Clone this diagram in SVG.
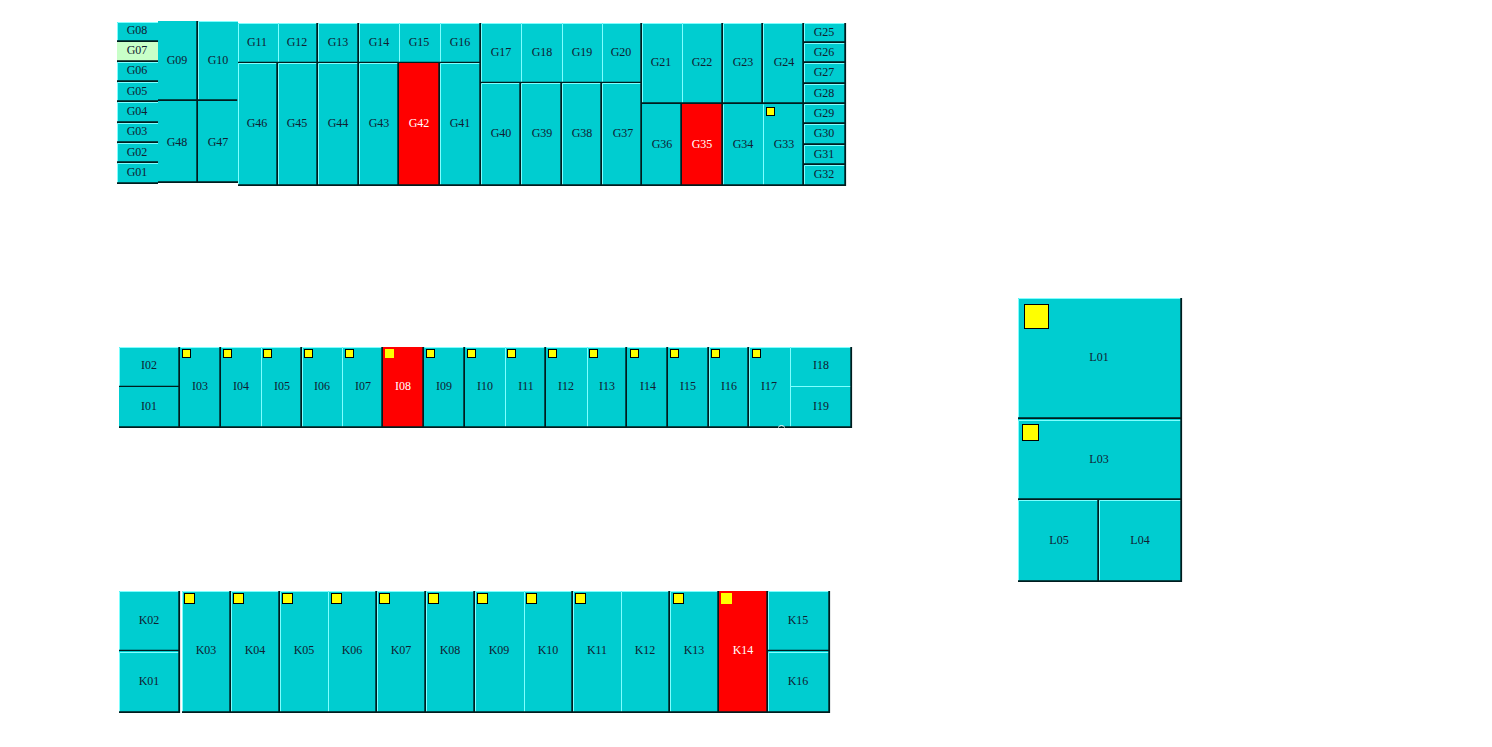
<svg xmlns="http://www.w3.org/2000/svg" width="1492" height="747" viewBox="0 0 1492 747">
<style>
rect.f{fill:#00CDD0}
rect.r{fill:#FF0000}
rect.p{fill:#C8FFC8}
rect.s{fill:#FFFF00;stroke:#000;stroke-width:1}
path.l{fill:none;stroke:#7FFFFF;stroke-width:1}
path.d{fill:none;stroke:#001C1E;stroke-width:1.8}
text{font-family:"Liberation Serif","Times New Roman",serif;font-size:12px;fill:#102030;text-anchor:middle}
text.w{fill:#fff}
</style>
<rect width="1492" height="747" fill="#fff"/>
<g id="G08"><rect class="f" x="117" y="22" width="41" height="20"/><path class="l" d="M117.5 42V22.500H158"/><path class="d" d="M117 41.200H158"/><text x="137" y="34">G08</text></g>
<g id="G07"><rect class="p" x="117" y="42" width="41" height="20"/><path class="d" d="M117 61.200H158"/><text x="137" y="54">G07</text></g>
<g id="G06"><rect class="f" x="117" y="62" width="41" height="20"/><path class="l" d="M117.500 82V62.500H158"/><path class="d" d="M117 81.200H158"/><text x="137" y="74">G06</text></g>
<g id="G05"><rect class="f" x="117" y="82" width="41" height="20"/><path class="l" d="M117.500 102V82.500H158"/><path class="d" d="M117 101.200H158"/><text x="137" y="95">G05</text></g>
<g id="G04"><rect class="f" x="117" y="102" width="41" height="21"/><path class="l" d="M117.500 123V102.500H158"/><path class="d" d="M117 122.200H158"/><text x="137" y="115">G04</text></g>
<g id="G03"><rect class="f" x="117" y="123" width="41" height="20"/><path class="l" d="M117.500 143V123.500H158"/><path class="d" d="M117 142.200H158"/><text x="137" y="135">G03</text></g>
<g id="G02"><rect class="f" x="117" y="143" width="41" height="20"/><path class="l" d="M117.500 163V143.500H158"/><path class="d" d="M117 162.200H158"/><text x="137" y="156">G02</text></g>
<g id="G01"><rect class="f" x="117" y="163" width="41" height="21"/><path class="l" d="M117.500 184V163.500H158"/><path class="d" d="M117 183.200H158"/><text x="137" y="176">G01</text></g>
<g id="G09"><rect class="f" x="158" y="21" width="40" height="80"/><path class="d" d="M197.200 21V100.200H158"/><text x="177" y="64">G09</text></g>
<g id="G10"><rect class="f" x="198" y="21" width="40" height="80"/><path class="l" d="M198.500 100V21.500H238"/><path class="d" d="M237.200 100.200H198"/><text x="218" y="64">G10</text></g>
<g id="G48"><rect class="f" x="158" y="101" width="40" height="82"/><path class="d" d="M197.200 101V182.200H158"/><text x="177" y="146">G48</text></g>
<g id="G47"><rect class="f" x="198" y="101" width="40" height="82"/><path class="d" d="M198 182.200H238"/><text x="218" y="146">G47</text></g>
<g id="G11"><rect class="f" x="238" y="23" width="40" height="40"/><path class="l" d="M238.500 63V23.500H278"/><path class="d" d="M238 62.700H278"/><text x="257" y="46">G11</text></g>
<g id="G12"><rect class="f" x="278" y="23" width="40" height="40"/><path class="l" d="M278.500 63V23.500H318"/><path class="d" d="M278 62.700H318M317.200 23V63"/><text x="297" y="46">G12</text></g>
<g id="G13"><rect class="f" x="318" y="23" width="41" height="40"/><path class="l" d="M318.500 63V23.500H359"/><path class="d" d="M318 62.700H359M358.200 23V63"/><text x="338" y="46">G13</text></g>
<g id="G14"><rect class="f" x="359" y="23" width="40" height="40"/><path class="l" d="M359.500 63V23.500H399"/><path class="d" d="M359 62.700H399"/><text x="379" y="46">G14</text></g>
<g id="G15"><rect class="f" x="399" y="23" width="41" height="40"/><path class="l" d="M399.500 63V23.500H440"/><path class="d" d="M399 62.700H440"/><text x="419" y="46">G15</text></g>
<g id="G16"><rect class="f" x="440" y="23" width="41" height="40"/><path class="l" d="M440.500 63V23.500H481"/><path class="d" d="M440 62.700H481M480.200 23V63"/><text x="460" y="46">G16</text></g>
<g id="G46"><rect class="f" x="238" y="63" width="40" height="123"/><path class="l" d="M238.500 186V63.500H278"/><path class="d" d="M238 185.200H278M277.200 63V186"/><text x="257" y="127">G46</text></g>
<g id="G45"><rect class="f" x="278" y="63" width="40" height="123"/><path class="l" d="M278.500 186V63.500H318"/><path class="d" d="M278 185.200H318M317.200 63V186"/><text x="297" y="127">G45</text></g>
<g id="G44"><rect class="f" x="318" y="63" width="41" height="123"/><path class="l" d="M318.500 186V63.500H359"/><path class="d" d="M318 185.200H359M358.200 63V186"/><text x="338" y="127">G44</text></g>
<g id="G43"><rect class="f" x="359" y="63" width="40" height="123"/><path class="l" d="M359.500 186V63.500H399"/><path class="d" d="M359 185.200H399M398.200 63V186"/><text x="379" y="127">G43</text></g>
<g id="G42"><rect class="r" x="399" y="63" width="41" height="123"/><path class="d" d="M399 185.200H440M439.200 63V186"/><text class="w" x="419" y="127">G42</text></g>
<g id="G41"><rect class="f" x="440" y="63" width="41" height="123"/><path class="l" d="M440.500 186V63.500H481"/><path class="d" d="M440 185.200H481M480.200 63V186"/><text x="460" y="127">G41</text></g>
<g id="G17"><rect class="f" x="481" y="23" width="40" height="60"/><path class="l" d="M481.500 83V23.500H521"/><path class="d" d="M481 82.700H521"/><text x="501" y="56">G17</text></g>
<g id="G18"><rect class="f" x="521" y="23" width="41" height="60"/><path class="l" d="M521.500 83V23.500H562"/><path class="d" d="M521 82.700H562"/><text x="542" y="56">G18</text></g>
<g id="G19"><rect class="f" x="562" y="23" width="40" height="60"/><path class="l" d="M562.500 83V23.500H602"/><path class="d" d="M562 82.700H602"/><text x="582" y="56">G19</text></g>
<g id="G20"><rect class="f" x="602" y="23" width="40" height="60"/><path class="l" d="M602.500 83V23.500H642"/><path class="d" d="M602 82.700H642M641.200 23V83"/><text x="621" y="56">G20</text></g>
<g id="G40"><rect class="f" x="481" y="83" width="40" height="103"/><path class="l" d="M481.500 186V83.500H521"/><path class="d" d="M481 185.200H521M520.200 83V186"/><text x="501" y="137">G40</text></g>
<g id="G39"><rect class="f" x="521" y="83" width="41" height="103"/><path class="l" d="M521.500 186V83.500H562"/><path class="d" d="M521 185.200H562M561.200 83V186"/><text x="542" y="137">G39</text></g>
<g id="G38"><rect class="f" x="562" y="83" width="40" height="103"/><path class="l" d="M562.500 186V83.500H602"/><path class="d" d="M562 185.200H602M601.200 83V186"/><text x="582" y="137">G38</text></g>
<g id="G37"><rect class="f" x="602" y="83" width="40" height="103"/><path class="l" d="M602.500 186V83.500H642"/><path class="d" d="M602 185.200H642M641.200 83V186"/><text x="623" y="137">G37</text></g>
<g id="G21"><rect class="f" x="642" y="23" width="40" height="81"/><path class="l" d="M642.500 104V23.500H682"/><path class="d" d="M642 103.200H682"/><text x="661" y="66">G21</text></g>
<g id="G22"><rect class="f" x="682" y="23" width="41" height="81"/><path class="l" d="M682.500 104V23.500H723"/><path class="d" d="M682 103.200H723M722.200 23V104"/><text x="702" y="66">G22</text></g>
<g id="G23"><rect class="f" x="723" y="23" width="40" height="81"/><path class="l" d="M723.500 104V23.500H763"/><path class="d" d="M723 103.200H763M762.200 23V104"/><text x="743" y="66">G23</text></g>
<g id="G24"><rect class="f" x="763" y="23" width="41" height="81"/><path class="l" d="M763.500 104V23.500H804"/><path class="d" d="M763 103.200H804M803.200 23V104"/><text x="784" y="66">G24</text></g>
<g id="G36"><rect class="f" x="642" y="104" width="40" height="82"/><path class="d" d="M642 185.200H682M681.200 104V186"/><text x="662" y="148">G36</text></g>
<g id="G35"><rect class="r" x="682" y="104" width="41" height="82"/><path class="d" d="M682 185.200H723M722.200 104V186"/><text class="w" x="702" y="148">G35</text></g>
<g id="G34"><rect class="f" x="723" y="104" width="40" height="82"/><path class="l" d="M723.500 186V104.500"/><path class="d" d="M723 185.200H763"/><text x="743" y="148">G34</text></g>
<g id="G33"><rect class="f" x="763" y="104" width="41" height="82"/><path class="l" d="M763.500 186V104.500"/><path class="d" d="M763 185.200H804M803.200 104V186"/><rect class="s" x="766.500" y="107.500" width="8" height="8"/><text x="784" y="148">G33</text></g>
<g id="G25"><rect class="f" x="804" y="23" width="42" height="20"/><path class="l" d="M804.500 43V23.500H846"/><path class="d" d="M804 42.200H846M845.200 23V43"/><text x="824" y="36">G25</text></g>
<g id="G26"><rect class="f" x="804" y="43" width="42" height="20"/><path class="l" d="M804.500 63V43.500H846"/><path class="d" d="M804 62.200H846M845.200 43V63"/><text x="824" y="56">G26</text></g>
<g id="G27"><rect class="f" x="804" y="63" width="42" height="21"/><path class="l" d="M804.500 84V63.500H846"/><path class="d" d="M804 83.200H846M845.200 63V84"/><text x="824" y="76">G27</text></g>
<g id="G28"><rect class="f" x="804" y="84" width="42" height="20"/><path class="l" d="M804.500 104V84.500H846"/><path class="d" d="M804 103.200H846M845.200 84V104"/><text x="824" y="97">G28</text></g>
<g id="G29"><rect class="f" x="804" y="104" width="42" height="20"/><path class="l" d="M804.500 124V104.500H846"/><path class="d" d="M804 123.200H846M845.200 104V124"/><text x="824" y="117">G29</text></g>
<g id="G30"><rect class="f" x="804" y="124" width="42" height="21"/><path class="l" d="M804.500 145V124.500H846"/><path class="d" d="M804 144.200H846M845.200 124V145"/><text x="824" y="137">G30</text></g>
<g id="G31"><rect class="f" x="804" y="145" width="42" height="20"/><path class="l" d="M804.500 165V145.500H846"/><path class="d" d="M804 164.200H846M845.200 145V165"/><text x="824" y="158">G31</text></g>
<g id="G32"><rect class="f" x="804" y="165" width="42" height="21"/><path class="l" d="M804.500 186V165.500H846"/><path class="d" d="M804 185.200H846M845.200 165V186"/><text x="824" y="178">G32</text></g>

<g id="I02"><rect class="f" x="119" y="347" width="61" height="40"/><path class="l" d="M119.500 387V347.500H180"/><path class="d" d="M119 386.700H180M179.200 347V387"/><text x="149" y="369">I02</text></g>
<g id="I01"><rect class="f" x="119" y="387" width="61" height="41"/><path class="d" d="M119 427.200H180M179.200 387V428"/><text x="149" y="410">I01</text></g>
<g id="I03"><rect class="f" x="180" y="347" width="41" height="81"/><path class="l" d="M180.500 347.500H221"/><path class="d" d="M180 427.200H221M220.200 347V428"/><rect class="s" x="182.500" y="349.500" width="8" height="8"/><text x="200" y="390">I03</text></g>
<g id="I04"><rect class="f" x="221" y="347" width="40" height="81"/><path class="l" d="M221.500 347.500H261"/><path class="d" d="M221 427.200H261"/><rect class="s" x="223.500" y="349.500" width="8" height="8"/><text x="241" y="390">I04</text></g>
<g id="I05"><rect class="f" x="261" y="347" width="41" height="81"/><path class="l" d="M261.500 428V347.500H302"/><path class="d" d="M261 427.200H302M301.200 347V428"/><rect class="s" x="263.500" y="349.500" width="8" height="8"/><text x="282" y="390">I05</text></g>
<g id="I06"><rect class="f" x="302" y="347" width="40" height="81"/><path class="l" d="M302.500 428V347.500H342"/><path class="d" d="M302 427.200H342"/><rect class="s" x="304.500" y="349.500" width="8" height="8"/><text x="322" y="390">I06</text></g>
<g id="I07"><rect class="f" x="342" y="347" width="41" height="81"/><path class="l" d="M342.500 428V347.500H383"/><path class="d" d="M342 427.200H383M382.200 347V428"/><rect class="s" x="345.500" y="349.500" width="8" height="8"/><text x="363" y="390">I07</text></g>
<g id="I08"><rect class="r" x="383" y="347" width="41" height="81"/><path class="d" d="M383 427.200H424M423.200 347V428"/><rect x="385" y="349" width="9" height="9" fill="#FFFF00"/><text class="w" x="403" y="390">I08</text></g>
<g id="I09"><rect class="f" x="424" y="347" width="41" height="81"/><path class="l" d="M424.500 347.500H465"/><path class="d" d="M424 427.200H465M464.200 347V428"/><rect class="s" x="426.500" y="349.500" width="8" height="8"/><text x="444" y="390">I09</text></g>
<g id="I10"><rect class="f" x="465" y="347" width="40" height="81"/><path class="l" d="M465.500 347.500H505"/><path class="d" d="M465 427.200H505"/><rect class="s" x="467.500" y="349.500" width="8" height="8"/><text x="485" y="390">I10</text></g>
<g id="I11"><rect class="f" x="505" y="347" width="41" height="81"/><path class="l" d="M505.500 428V347.500H546"/><path class="d" d="M505 427.200H546M545.200 347V428"/><rect class="s" x="507.500" y="349.500" width="8" height="8"/><text x="526" y="390">I11</text></g>
<g id="I12"><rect class="f" x="546" y="347" width="41" height="81"/><path class="l" d="M546.500 347.500H587"/><path class="d" d="M546 427.200H587"/><rect class="s" x="548.500" y="349.500" width="8" height="8"/><text x="566" y="390">I12</text></g>
<g id="I13"><rect class="f" x="587" y="347" width="40" height="81"/><path class="l" d="M587.500 428V347.500H627"/><path class="d" d="M587 427.200H627M626.200 347V428"/><rect class="s" x="589.500" y="349.500" width="8" height="8"/><text x="607" y="390">I13</text></g>
<g id="I14"><rect class="f" x="627" y="347" width="41" height="81"/><path class="l" d="M627.500 347.500H668"/><path class="d" d="M627 427.200H668M667.200 347V428"/><rect class="s" x="630.500" y="349.500" width="8" height="8"/><text x="648" y="390">I14</text></g>
<g id="I15"><rect class="f" x="668" y="347" width="41" height="81"/><path class="l" d="M668.500 347.500H709"/><path class="d" d="M668 427.200H709M708.200 347V428"/><rect class="s" x="670.500" y="349.500" width="8" height="8"/><text x="688" y="390">I15</text></g>
<g id="I16"><rect class="f" x="709" y="347" width="40" height="81"/><path class="l" d="M709.500 428V347.500H749"/><path class="d" d="M709 427.200H749M748.200 347V428"/><rect class="s" x="711.500" y="349.500" width="8" height="8"/><text x="729" y="390">I16</text></g>
<g id="I17"><rect class="f" x="749" y="347" width="41" height="81"/><path class="l" d="M749.500 428V347.500H790"/><path class="d" d="M749 427.200H790"/><rect class="s" x="752.500" y="349.500" width="8" height="8"/><path d="M778 427.500Q781.500 423.500 785 427.500" fill="none" stroke="#fff"/><text x="769" y="390">I17</text></g>
<g id="I18"><rect class="f" x="790" y="347" width="62" height="40"/><path class="l" d="M790.500 387V347.500H852M790 386.500H851"/><path class="d" d="M851.200 347V387"/><text x="821" y="369">I18</text></g>
<g id="I19"><rect class="f" x="790" y="387" width="62" height="41"/><path class="l" d="M790.500 428V387"/><path class="d" d="M790 427.200H852M851.200 387V428"/><text x="821" y="410">I19</text></g>

<g id="L01"><rect class="f" x="1018" y="298" width="164" height="121"/><path class="l" d="M1018.500 419V298.500H1182"/><path class="d" d="M1018 418.200H1182M1181.200 298V419"/><rect class="s" x="1024.500" y="304.500" width="24" height="24"/><text x="1099" y="361">L01</text></g>
<g id="L03"><rect class="f" x="1018" y="419" width="164" height="81"/><path class="l" d="M1018.500 500V420.500H1182"/><path class="d" d="M1018 499.200H1182M1181.200 419V500"/><rect class="s" x="1022.500" y="424.500" width="16" height="16"/><text x="1099" y="463">L03</text></g>
<g id="L05"><rect class="f" x="1018" y="500" width="81" height="82"/><path class="l" d="M1018.500 582V500.500H1099"/><path class="d" d="M1018 581.200H1099M1098.200 500V582"/><text x="1059" y="544">L05</text></g>
<g id="L04"><rect class="f" x="1099" y="500" width="83" height="82"/><path class="l" d="M1099.500 582V500.500H1182"/><path class="d" d="M1099 581.200H1182M1181.200 500V582"/><text x="1140" y="544">L04</text></g>

<g id="K02"><rect class="f" x="119" y="591" width="61" height="60"/><path class="l" d="M119.500 651V591.500H180"/><path class="d" d="M119 650.700H180M179.200 591V651"/><text x="149" y="624">K02</text></g>
<g id="K01"><rect class="f" x="119" y="651" width="61" height="62"/><path class="l" d="M119.500 713V652.500H180"/><path class="d" d="M119 712.200H180M179.200 651V713"/><text x="149" y="685">K01</text></g>
<g id="K03"><rect class="f" x="182" y="591" width="49" height="122"/><path class="l" d="M182.500 713V591.500H231"/><path class="d" d="M182 712.200H231M230.200 591V713"/><rect class="s" x="184.500" y="593.500" width="10" height="10"/><text x="206" y="654">K03</text></g>
<g id="K04"><rect class="f" x="231" y="591" width="49" height="122"/><path class="l" d="M231.500 713V591.500H280"/><path class="d" d="M231 712.200H280M279.200 591V713"/><rect class="s" x="233.500" y="593.500" width="10" height="10"/><text x="255" y="654">K04</text></g>
<g id="K05"><rect class="f" x="280" y="591" width="48" height="122"/><path class="l" d="M280.500 713V591.500H328"/><path class="d" d="M280 712.200H328"/><rect class="s" x="282.500" y="593.500" width="10" height="10"/><text x="304" y="654">K05</text></g>
<g id="K06"><rect class="f" x="328" y="591" width="49" height="122"/><path class="l" d="M328.500 713V591.500H377"/><path class="d" d="M328 712.200H377M376.200 591V713"/><rect class="s" x="331.500" y="593.500" width="10" height="10"/><text x="352" y="654">K06</text></g>
<g id="K07"><rect class="f" x="377" y="591" width="49" height="122"/><path class="l" d="M377.500 713V591.500H426"/><path class="d" d="M377 712.200H426M425.200 591V713"/><rect class="s" x="379.500" y="593.500" width="10" height="10"/><text x="401" y="654">K07</text></g>
<g id="K08"><rect class="f" x="426" y="591" width="49" height="122"/><path class="l" d="M426.500 713V591.500H475"/><path class="d" d="M426 712.200H475M474.200 591V713"/><rect class="s" x="428.500" y="593.500" width="10" height="10"/><text x="450" y="654">K08</text></g>
<g id="K09"><rect class="f" x="475" y="591" width="49" height="122"/><path class="l" d="M475.500 713V591.500H524"/><path class="d" d="M475 712.200H524"/><rect class="s" x="477.500" y="593.500" width="10" height="10"/><text x="499" y="654">K09</text></g>
<g id="K10"><rect class="f" x="524" y="591" width="49" height="122"/><path class="l" d="M524.500 713V591.500H573"/><path class="d" d="M524 712.200H573M572.200 591V713"/><rect class="s" x="526.500" y="593.500" width="10" height="10"/><text x="548" y="654">K10</text></g>
<g id="K11"><rect class="f" x="573" y="591" width="48" height="122"/><path class="l" d="M573.500 713V591.500H621"/><path class="d" d="M573 712.200H621"/><rect class="s" x="575.500" y="593.500" width="10" height="10"/><text x="597" y="654">K11</text></g>
<g id="K12"><rect class="f" x="621" y="591" width="49" height="122"/><path class="l" d="M621.500 713V591.500H670"/><path class="d" d="M621 712.200H670M669.200 591V713"/><text x="645" y="654">K12</text></g>
<g id="K13"><rect class="f" x="670" y="591" width="49" height="122"/><path class="l" d="M670.500 713V591.500H719"/><path class="d" d="M670 712.200H719M718.200 591V713"/><rect class="s" x="673.500" y="593.500" width="10" height="10"/><text x="694" y="654">K13</text></g>
<g id="K14"><rect class="r" x="719" y="591" width="49" height="122"/><path class="d" d="M719 712.200H768M767.200 591V713"/><rect x="721" y="593" width="11" height="11" fill="#FFFF00"/><text class="w" x="743" y="654">K14</text></g>
<g id="K15"><rect class="f" x="768" y="591" width="62" height="60"/><path class="l" d="M768.500 651V591.500H830"/><path class="d" d="M768 650.700H830M829.200 591V651"/><text x="798" y="624">K15</text></g>
<g id="K16"><rect class="f" x="768" y="651" width="62" height="62"/><path class="l" d="M768.500 713V652.500H830"/><path class="d" d="M768 712.200H830M829.200 651V713"/><text x="798" y="685">K16</text></g>
<g id="connectors"></g>
</svg>
